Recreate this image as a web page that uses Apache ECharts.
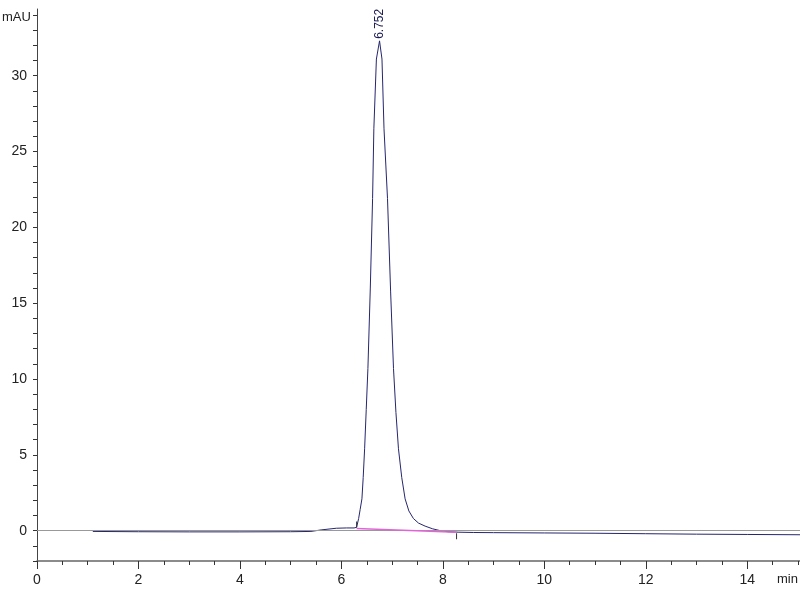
<!DOCTYPE html>
<html>
<head>
<meta charset="utf-8">
<script src="https://cdn.jsdelivr.net/npm/echarts@6/dist/echarts.min.js"></script>
<style>html,body{margin:0;padding:0;background:#fff}#c{width:800px;height:600px}</style>
</head>
<body>
<div id="c"></div>
<script>
// Chromatogram trace (min, mAU)
const times = [1.1, 2.0, 3.0, 4.0, 5.0, 5.4, 5.6, 5.9, 6.1, 6.25, 6.30, 6.34, 6.37, 6.405, 6.43, 6.458, 6.49, 6.523, 6.57, 6.615, 6.64, 6.69, 6.752, 6.80, 6.84, 6.909, 6.97, 7.027, 7.075, 7.125, 7.19, 7.256, 7.33, 7.42, 7.52, 7.65, 7.8, 7.95, 8.1, 8.3, 8.6, 9.0, 10.0, 11.0, 12.0, 13.0, 14.0, 15.04];
const signal = [-0.05, -0.07, -0.08, -0.08, -0.07, -0.05, 0.05, 0.16, 0.18, 0.18, 0.22, 0.8, 1.4, 2.1, 3.5, 5.4, 8.0, 10.7, 16.0, 21.9, 26.5, 31.1, 32.3, 31.1, 26.5, 21.9, 15.8, 10.7, 7.8, 5.4, 3.5, 2.1, 1.3, 0.8, 0.5, 0.3, 0.12, 0.0, -0.07, -0.1, -0.12, -0.13, -0.15, -0.17, -0.2, -0.23, -0.25, -0.27];
// Integration baseline
const baseTimes = [6.30, 8.27];
const baseValues = [0.14, -0.1];
// Peak annotation
const peakTime = 6.752;
const peakValue = 32.3;
const peakLabel = '6.752';
// Axis ticks
const xTickLabels = [0, 2, 4, 6, 8, 10, 12, 14];
const yTickLabels = [0, 5, 10, 15, 20, 25, 30];

const font = "'Liberation Sans', Arial, sans-serif";
const chart = echarts.init(document.getElementById('c'), null, {renderer: 'canvas'});
chart.setOption({
  animation: false,
  backgroundColor: '#fff',
  grid: {left: 37, right: 0, top: 9, bottom: 39},
  xAxis: {
    type: 'value', min: 0, max: 15.04, interval: 2,
    axisLine: {show: true, onZero: false, lineStyle: {color: '#666', width: 1.5}},
    axisTick: {show: true, length: 8, lineStyle: {color: '#333'}},
    minorTick: {show: true, splitNumber: 4, length: 4, lineStyle: {color: '#333'}},
    splitLine: {show: false},
    axisLabel: {
      margin: 12, color: '#222', fontFamily: font, fontSize: 14,
      showMaxLabel: false,
      formatter: v => (xTickLabels.indexOf(v) >= 0 ? String(v) : '')
    }
  },
  yAxis: {
    type: 'value', min: -2, max: 34.4, interval: 1,
    axisLine: {show: true, onZero: false, lineStyle: {color: '#444', width: 1}},
    axisTick: {show: true, length: 4, lineStyle: {color: '#333'}},
    splitLine: {show: false},
    axisLabel: {
      margin: 10, color: '#222', fontFamily: font, fontSize: 14,
      showMaxLabel: false,
      formatter: v => (yTickLabels.indexOf(v) >= 0 ? String(v) : '')
    }
  },
  series: [
    {
      type: 'line', showSymbol: false, silent: true, z: 1,
      data: [],
      markLine: {
        silent: true, symbol: 'none', label: {show: false},
        lineStyle: {color: '#999', width: 1, type: 'solid'},
        data: [{yAxis: 0}]
      }
    },
    {
      type: 'line', showSymbol: false, z: 3,
      data: times.map((t, i) => [t, signal[i]]),
      lineStyle: {color: '#26266e', width: 1},
      markPoint: {
        symbol: 'circle', symbolSize: 0,
        data: [{coord: [peakTime, peakValue]}],
        label: {
          show: true, formatter: peakLabel, position: 'top', distance: 2,
          rotate: 90, align: 'left', verticalAlign: 'middle',
          color: '#1a1a50', fontFamily: font, fontSize: 12
        }
      }
    },
    {
      type: 'line', showSymbol: false, z: 5,
      data: baseTimes.map((t, i) => [t, baseValues[i]]),
      lineStyle: {color: '#e066d6', width: 1.6},
      markPoint: {
        symbol: 'rect', symbolSize: [1, 6],
        itemStyle: {color: '#333'},
        label: {show: false},
        data: [
          {coord: [baseTimes[0], baseValues[0]], symbolOffset: [0, -4]},
          {coord: [baseTimes[1], baseValues[1]], symbolOffset: [0, 4]}
        ]
      }
    }
  ],
  graphic: [
    {type: 'text', left: 2, top: 11, style: {text: 'mAU', fill: '#222', font: '13px ' + font}},
    {type: 'text', left: 777, top: 573, style: {text: 'min', fill: '#222', font: '13px ' + font}}
  ]
});
</script>
</body>
</html>
